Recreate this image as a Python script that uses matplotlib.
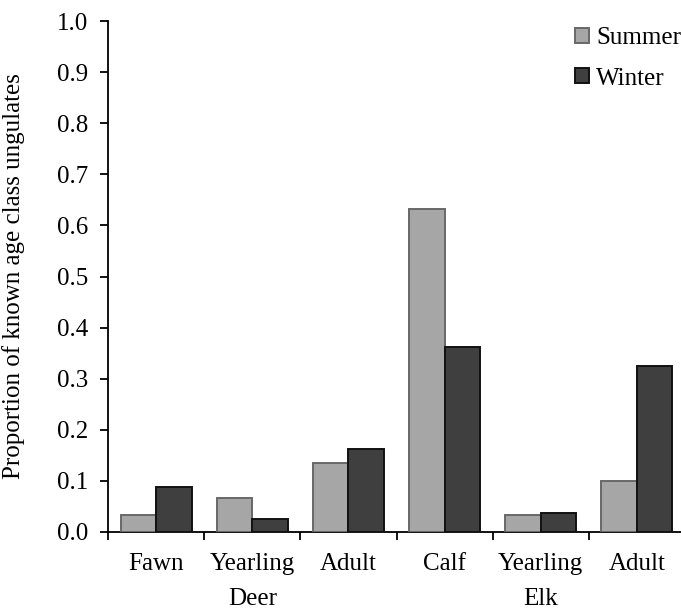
import matplotlib
matplotlib.use("Agg")
import matplotlib.pyplot as plt
import numpy as np

# age classes for each species
categories = ["Fawn", "Yearling", "Adult", "Calf", "Yearling", "Adult"]
groups = ["Deer", "Elk"]
group_centers = [1.5, 4.5]
summer = [0.033, 0.067, 0.135, 0.633, 0.033, 0.100]
winter = [0.088, 0.025, 0.163, 0.363, 0.038, 0.325]

plt.rcParams['font.family'] = ['Liberation Serif', 'DejaVu Serif']
fs = 18

W, H = 681, 609
fig = plt.figure(figsize=(W / 100, H / 100), dpi=100)
ax = fig.add_axes([108 / W, (H - 532) / H, (685 - 108) / W, (532 - 21) / H])

x = np.arange(len(categories)) + 0.5
bw = 0.37
ax.bar(x - bw / 2, summer, bw, color='#a6a6a6', edgecolor='#686868',
       linewidth=1.4, label='Summer', zorder=3)
ax.bar(x + bw / 2, winter, bw, color='#3f3f3f', edgecolor='#111111',
       linewidth=1.4, label='Winter', zorder=3)

ax.set_xlim(0, len(categories))
ax.set_ylim(0, 1.0)
ax.set_yticks(np.arange(0, 1.01, 0.1))
ax.set_yticklabels([f"{v:.1f}" for v in np.arange(0, 1.01, 0.1)], fontsize=fs)
ax.tick_params(axis='y', direction='out', length=6, width=1.3, pad=8)
ax.set_xticks(np.arange(0, len(categories) + 1))
ax.set_xticklabels([])
ax.tick_params(axis='x', direction='out', length=6, width=1.3)

for s in ['top', 'right']:
    ax.spines[s].set_visible(False)
for s in ['left', 'bottom']:
    ax.spines[s].set_linewidth(1.3)

for xi, lab in zip(x, categories):
    ax.annotate(lab, xy=(xi, 0), xycoords=('data', 'axes fraction'),
                xytext=(0, -38 * 0.72), textcoords='offset points',
                ha='center', va='baseline', fontsize=fs)
for gc, g in zip(group_centers, groups):
    ax.annotate(g, xy=(gc, 0), xycoords=('data', 'axes fraction'),
                xytext=(0, -73 * 0.72), textcoords='offset points',
                ha='center', va='baseline', fontsize=fs)

ax.set_ylabel("Proportion of known age class ungulates", fontsize=fs)
ax.yaxis.set_label_coords((25 - 108) / (685 - 108), 0.5)

ax.legend(loc='upper left', bbox_to_anchor=(575 / W, 1 - 27 / H),
          bbox_transform=fig.transFigure, frameon=False, fontsize=fs,
          handlelength=0.55, handleheight=0.55, handletextpad=0.3,
          labelspacing=0.75, borderpad=0, borderaxespad=0)

fig.savefig("out.png", dpi=100)
